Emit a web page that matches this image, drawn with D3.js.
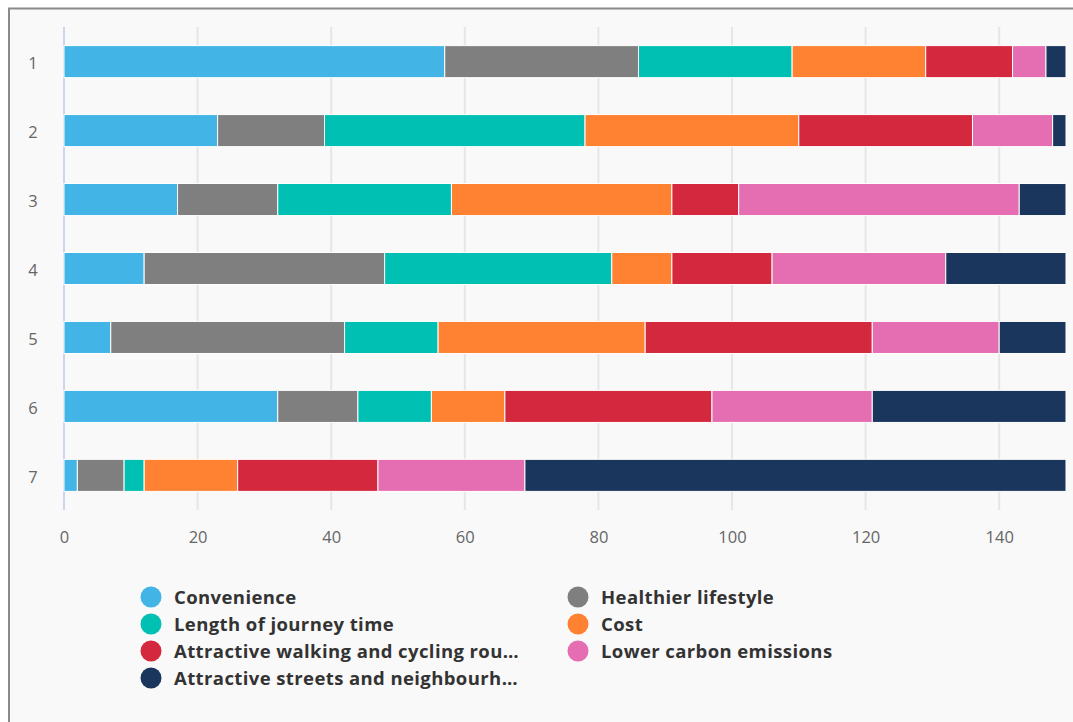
<!DOCTYPE html>
<html>
<head>
<meta charset="utf-8">
<script src="https://cdn.jsdelivr.net/npm/d3@7"></script>
<style>
  html, body { margin: 0; padding: 0; background: #ffffff; }
  svg { display: block; }
</style>
</head>
<body>
<svg id="chart" width="1073" height="722"></svg>
<script>
// Ranks 1–7 and the reasons chosen at each rank
const categories = ["1", "2", "3", "4", "5", "6", "7"];
const seriesNames = [
  "Convenience",
  "Healthier lifestyle",
  "Length of journey time",
  "Cost",
  "Attractive walking and cycling routes",
  "Lower carbon emissions",
  "Attractive streets and neighbourhoods"
];
const seriesColors = ["#42b4e6", "#7f7f7f", "#00bfb3", "#ff8232", "#d4283e", "#e56db1", "#1b365d"];

const convenience   = [57, 23, 17, 12, 7, 32, 2];
const healthier     = [29, 16, 15, 36, 35, 12, 7];
const journeyTime   = [23, 39, 26, 34, 14, 11, 3];
const cost          = [20, 32, 33, 9, 31, 11, 14];
const walkCycle     = [13, 26, 10, 15, 34, 31, 21];
const lowerCarbon   = [5, 12, 42, 26, 19, 24, 22];
const streets       = [3, 2, 7, 18, 10, 29, 81];

const xTicks = [0, 20, 40, 60, 80, 100, 120, 140];

const seriesValues = [convenience, healthier, journeyTime, cost, walkCycle, lowerCarbon, streets];
const rows = categories.map((c, i) => {
  const r = { cat: c };
  seriesNames.forEach((s, j) => { r[s] = seriesValues[j][i]; });
  return r;
});

const svg = d3.select("#chart");
const W = 1073, H = 722;

// Frame
svg.append("rect").attr("x", 0).attr("y", 0).attr("width", W).attr("height", H).attr("fill", "#ffffff");
svg.append("rect").attr("x", 9).attr("y", 8.5).attr("width", W + 10).attr("height", H + 10)
  .attr("fill", "#f9f9f9").attr("stroke", "#8a8a8a").attr("stroke-width", 2);

const margin = { left: 64, right: 1066, top: 27, bottom: 510 };

const x = d3.scaleLinear().domain([0, 150]).range([margin.left, margin.right]);
const y = d3.scaleBand().domain(categories).range([margin.top, margin.bottom]).paddingInner(0.535).paddingOuter(0.27);

// Grid lines
svg.append("g").selectAll("line").data(xTicks.filter(t => t > 0)).join("line")
  .attr("x1", d => x(d)).attr("x2", d => x(d))
  .attr("y1", margin.top).attr("y2", margin.bottom)
  .attr("stroke", "#e6e6e6").attr("stroke-width", 2);

// Zero line
svg.append("line").attr("x1", x(0)).attr("x2", x(0))
  .attr("y1", margin.top).attr("y2", margin.bottom)
  .attr("stroke", "#ccd6eb").attr("stroke-width", 2);

// Stacked bars
const stack = d3.stack().keys(seriesNames)(rows);
const color = d3.scaleOrdinal().domain(seriesNames).range(seriesColors);

svg.append("g").selectAll("g").data(stack).join("g")
  .attr("fill", d => color(d.key))
  .selectAll("rect").data(d => d).join("rect")
  .attr("x", d => x(d[0]))
  .attr("width", d => x(d[1]) - x(d[0]))
  .attr("y", d => y(d.data.cat))
  .attr("height", y.bandwidth())
  .attr("stroke", "#ffffff").attr("stroke-width", 1);

// X axis labels
const xAxis = d3.axisBottom(x).tickValues(xTicks).tickSize(0).tickPadding(0);
const gx = svg.append("g").attr("transform", `translate(0, ${margin.bottom})`).call(xAxis);
gx.select(".domain").remove();
gx.selectAll("text").attr("y", 33).attr("dy", null)
  .attr("font-family", "'Open Sans', sans-serif").attr("font-size", 16.5).attr("fill", "#666666");

// Y axis labels
const yAxis = d3.axisLeft(y).tickSize(0).tickPadding(0);
const gy = svg.append("g").attr("transform", `translate(0,0)`).call(yAxis);
gy.select(".domain").remove();
gy.selectAll("text").attr("x", 33).attr("dy", "0.45em").attr("text-anchor", "middle")
  .attr("font-family", "'Open Sans', sans-serif").attr("font-size", 16.5).attr("fill", "#666666");

// Legend
const legendLabels = [
  "Convenience",
  "Healthier lifestyle",
  "Length of journey time",
  "Cost",
  "Attractive walking and cycling rou…",
  "Lower carbon emissions",
  "Attractive streets and neighbourh…"
];
const legend = svg.append("g");
const items = legend.selectAll("g").data(seriesNames).join("g")
  .attr("transform", (d, i) => {
    const col = i % 2, row = Math.floor(i / 2);
    return `translate(${col === 0 ? 151 : 578}, ${597 + row * 27})`;
  });
items.append("circle").attr("r", 10.5).attr("fill", d => color(d));
items.append("text").attr("x", 23).attr("dy", "0.36em")
  .attr("font-family", "'Open Sans', sans-serif").attr("font-weight", "bold")
  .attr("font-size", 18.5).attr("letter-spacing", 0.4).attr("fill", "#333333")
  .text((d, i) => legendLabels[i]);
</script>
</body>
</html>
